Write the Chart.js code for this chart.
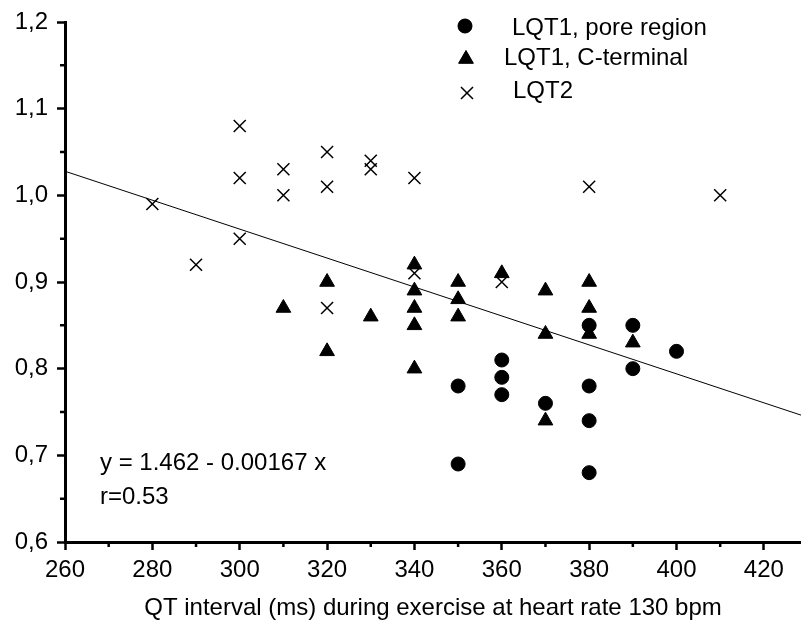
<!DOCTYPE html>
<html>
<head>
<meta charset="utf-8">
<script src="https://cdn.jsdelivr.net/npm/chart.js@4/dist/chart.umd.min.js"></script>
<style>
  body { margin: 0; background: #fff; }
  #wrap { width: 801px; height: 623px; }
</style>
</head>
<body>
<div id="wrap"><canvas id="qt-chart" width="801" height="623"></canvas></div>
<script>
// LQT1, pore region
var poreX = [350, 350, 360, 360, 360, 370, 380, 380, 380, 380, 390, 390, 400];
var poreY = [0.78, 0.69, 0.81, 0.79, 0.77, 0.76, 0.85, 0.78, 0.74, 0.68, 0.85, 0.80, 0.82];

// LQT1, C-terminal
var ctermX = [310, 320, 320, 330, 340, 340, 340, 340, 340, 350, 350, 350, 360, 370, 370, 370, 380, 380, 380, 390];
var ctermY = [0.87, 0.90, 0.82, 0.86, 0.92, 0.89, 0.87, 0.85, 0.80, 0.90, 0.88, 0.86, 0.91, 0.89, 0.84, 0.74, 0.90, 0.87, 0.84, 0.83];

// LQT2
var lqt2X = [280, 290, 300, 300, 300, 310, 310, 320, 320, 320, 330, 330, 340, 340, 360, 380, 410];
var lqt2Y = [0.99, 0.92, 1.08, 1.02, 0.95, 1.03, 1.00, 1.05, 1.01, 0.87, 1.04, 1.03, 1.02, 0.91, 0.90, 1.01, 1.00];

// fit from the figure: y = 1.462 - 0.00167 x
var fitIntercept = 1.462;
var fitSlope = -0.00167;

var xMin = 260, xMax = 428.5;
var yMin = 0.6, yMax = 1.2;

function pts(xs, ys) {
  return xs.map(function (x, i) { return { x: x, y: ys[i] }; });
}

var fitLine = [xMin, xMax].map(function (x) {
  return { x: x, y: fitIntercept + fitSlope * x };
});

var FONT = "'Liberation Sans', Arial, sans-serif";

var isMajorX = function (v) { return Math.round(v) % 20 === 0; };
var isMajorY = function (v) { return Math.round(v * 100) % 10 === 0; };

// legend, fit text and minor ticks
var extras = {
  id: 'extras',
  afterDraw: function (chart) {
    var c = chart.ctx;
    var xs = chart.scales.x, ys = chart.scales.y;
    c.save();
    c.strokeStyle = '#000';
    c.lineWidth = 2.5;
    c.beginPath();
    for (var v = 270; v < xMax; v += 20) {
      var px = xs.getPixelForValue(v);
      c.moveTo(px, ys.bottom);
      c.lineTo(px, ys.bottom + 5);
    }
    for (var k = 0; k < 6; k++) {
      var yv = 0.65 + k * 0.1;
      var py = ys.getPixelForValue(yv);
      c.moveTo(xs.left, py);
      c.lineTo(xs.left - 5, py);
    }
    c.stroke();

    var legend = [
      { style: 'circle', r: 7, text: 'LQT1, pore region', mx: 465, my: 26, tx: 512, ty: 35 },
      { style: 'triangle', r: 8.5, text: 'LQT1, C-terminal', mx: 466, my: 59, tx: 504, ty: 65 },
      { style: 'crossRot', r: 8.5, text: 'LQT2', mx: 467, my: 93, tx: 513, ty: 98 }
    ];
    c.font = '24px ' + FONT;
    c.fillStyle = '#000';
    c.textBaseline = 'alphabetic';
    legend.forEach(function (it) {
      c.lineWidth = it.style === 'crossRot' ? 1.5 : 1;
      Chart.helpers.drawPoint(c, { pointStyle: it.style, radius: it.r, borderWidth: c.lineWidth, rotation: 0 }, it.mx, it.my);
      if (it.style !== 'crossRot') c.fill();
      c.fillText(it.text, it.tx, it.ty);
    });

    c.fillText('y = 1.462 - 0.00167 x', 100, 470);
    c.fillText('r=0.53', 100, 504);
    c.restore();
  }
};

var ctx = document.getElementById('qt-chart').getContext('2d');

var qtChart = new Chart(ctx, {
  type: 'scatter',
  data: {
    datasets: [{
      label: 'LQT1, pore region',
      data: pts(poreX, poreY),
      pointStyle: 'circle',
      pointRadius: 7,
      backgroundColor: '#000',
      borderColor: '#000',
      borderWidth: 1
    }, {
      label: 'LQT1, C-terminal',
      data: pts(ctermX, ctermY),
      pointStyle: 'triangle',
      pointRadius: 8.5,
      backgroundColor: '#000',
      borderColor: '#000',
      borderWidth: 1
    }, {
      label: 'LQT2',
      data: pts(lqt2X, lqt2Y),
      pointStyle: 'crossRot',
      pointRadius: 8.5,
      borderColor: '#000',
      borderWidth: 1.5
    }, {
      type: 'line',
      label: 'fit',
      data: fitLine,
      borderColor: '#000',
      borderWidth: 1,
      pointRadius: 0,
      fill: false
    }]
  },
  options: {
    responsive: false,
    animation: false,
    layout: { autoPadding: false, padding: { top: 22, right: 0, left: 0, bottom: 0 } },
    plugins: {
      legend: { display: false },
      tooltip: { enabled: false }
    },
    scales: {
      x: {
        type: 'linear',
        min: xMin,
        max: xMax,
        afterFit: function (s) { s.height = 81; s.paddingRight = 0; s.paddingLeft = 0; },
        border: { display: true, color: '#000', width: 3 },
        grid: {
          drawOnChartArea: false,
          tickLength: 8,
          tickWidth: 2.5,
          tickColor: function (c) { return isMajorX(c.tick.value) ? '#000' : 'rgba(0,0,0,0)'; }
        },
        ticks: {
          stepSize: 10,
          includeBounds: false,
          maxRotation: 0,
          autoSkip: false,
          padding: 6,
          color: '#000',
          font: { family: FONT, size: 24 },
          callback: function (v) { return isMajorX(v) ? String(Math.round(v)) : ''; }
        },
        title: {
          display: true,
          text: 'QT interval (ms) during exercise at heart rate 130 bpm',
          color: '#000',
          font: { family: FONT, size: 24 },
          padding: { top: 4, bottom: 0 }
        }
      },
      y: {
        type: 'linear',
        min: yMin,
        max: yMax,
        afterFit: function (s) { s.width = 65; s.paddingTop = 0; s.paddingBottom = 0; },
        border: { display: true, color: '#000', width: 3 },
        grid: {
          drawOnChartArea: false,
          tickLength: 8,
          tickWidth: 2.5,
          tickColor: function (c) { return isMajorY(c.tick.value) ? '#000' : 'rgba(0,0,0,0)'; }
        },
        ticks: {
          stepSize: 0.05,
          autoSkip: false,
          padding: 9,
          color: '#000',
          font: { family: FONT, size: 24 },
          callback: function (v) { return isMajorY(v) ? v.toFixed(1).replace('.', ',') : ''; }
        }
      }
    }
  },
  plugins: [extras]
});
</script>
</body>
</html>
